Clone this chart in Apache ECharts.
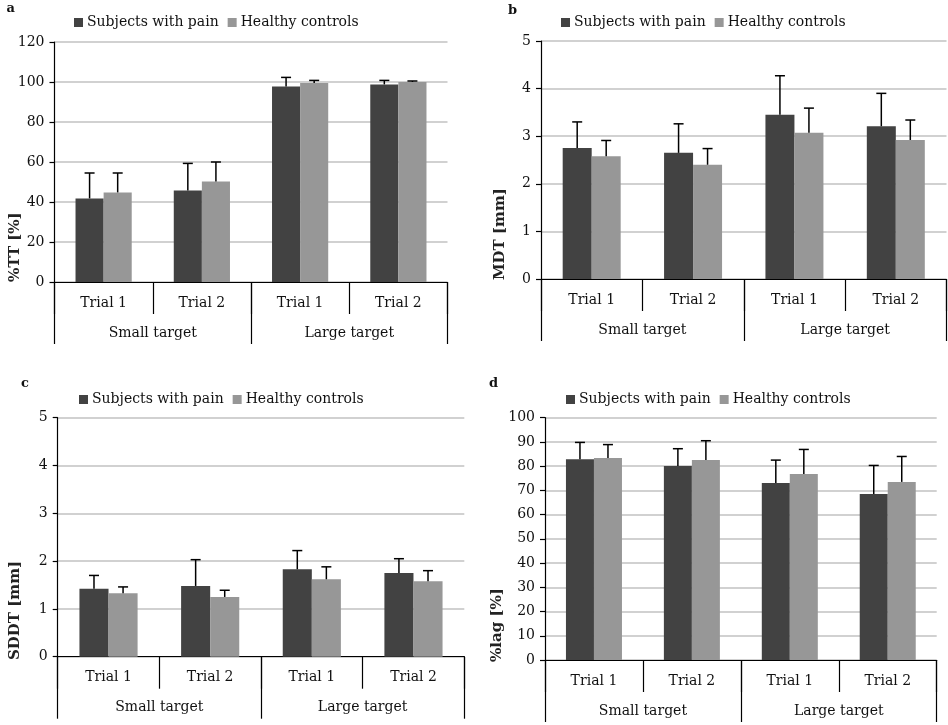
<!DOCTYPE html>
<html>
<head>
<meta charset="utf-8">
<script src="https://cdn.jsdelivr.net/npm/echarts@6/dist/echarts.min.js"></script>
<style>
  html, body { margin: 0; padding: 0; background: #fff; }
  #chart { width: 948px; height: 725px; }
</style>
</head>
<body>
<div id="chart"></div>
<script>
// Categories (two-level x axis)
const trials = ['Trial 1', 'Trial 2', 'Trial 1', 'Trial 2'];
const targets = ['Small target', 'Large target'];
const seriesNames = ['Subjects with pain', 'Healthy controls'];

// Panel a: %TT [%]
const ttPain = [41.8, 45.8, 97.8, 98.8];
const ttPainSD = [12.7, 13.5, 4.5, 2.0];
const ttCtrl = [44.8, 50.3, 99.5, 100.0];
const ttCtrlSD = [9.7, 9.7, 1.3, 0.5];

// Panel b: MDT [mm]
const mdtPain = [2.75, 2.65, 3.45, 3.21];
const mdtPainSD = [0.55, 0.61, 0.82, 0.69];
const mdtCtrl = [2.58, 2.40, 3.07, 2.92];
const mdtCtrlSD = [0.33, 0.34, 0.52, 0.42];

// Panel c: SDDT [mm]
const sddtPain = [1.42, 1.48, 1.83, 1.75];
const sddtPainSD = [0.28, 0.55, 0.39, 0.30];
const sddtCtrl = [1.33, 1.25, 1.62, 1.58];
const sddtCtrlSD = [0.13, 0.14, 0.26, 0.22];

// Panel d: %lag [%]
const lagPain = [82.9, 80.1, 73.0, 68.5];
const lagPainSD = [6.9, 7.1, 9.5, 11.8];
const lagCtrl = [83.4, 82.5, 76.8, 73.5];
const lagCtrlSD = [5.5, 8.0, 10.1, 10.5];

// Value axis ranges
const yMax = [120, 5, 5, 100];
const yStep = [20, 1, 1, 10];
const yTitles = ['%TT [%]', 'MDT [mm]', 'SDDT [mm]', '%lag [%]'];
const panelLetters = ['a', 'b', 'c', 'd'];

const panels = [
  { pain: ttPain, painSD: ttPainSD, ctrl: ttCtrl, ctrlSD: ttCtrlSD },
  { pain: mdtPain, painSD: mdtPainSD, ctrl: mdtCtrl, ctrlSD: mdtCtrlSD },
  { pain: sddtPain, painSD: sddtPainSD, ctrl: sddtCtrl, ctrlSD: sddtCtrlSD },
  { pain: lagPain, painSD: lagPainSD, ctrl: lagCtrl, ctrlSD: lagCtrlSD }
];

// Layout of the four panels (pixels)
const layout = [
  { left: 54.5, top: 42, width: 393, height: 240, legend: [74, 14], letter: [10.5, 10], title: [15, 282] },
  { left: 541, top: 41, width: 405.5, height: 238, legend: [561, 14], letter: [512, 12], title: [500, 280] },
  { left: 57.7, top: 417.7, width: 406.6, height: 239, legend: [79, 391], letter: [25, 385], title: [15, 660] },
  { left: 545, top: 417.7, width: 391.7, height: 242.3, legend: [566, 391], letter: [493, 385], title: [497, 662] }
];

const FONT = 'DejaVu Serif';
const DARK = '#424242';
const LIGHT = '#979797';
const BAR_FRAC = 0.286;

// Upper whisker (mean to mean + SD) with a short cap, offset onto its bar
function errorBar(sign) {
  return function (params, api) {
    const i = api.value(0);
    const mean = api.value(1);
    const sd = api.value(2);
    const base = api.coord([i, mean]);
    const top = api.coord([i, mean + sd]);
    const band = api.size([1, 0])[0];
    const x = base[0] + sign * band * BAR_FRAC / 2;
    const cap = 5;
    const st = { stroke: '#000', lineWidth: 1.5 };
    return {
      type: 'group',
      children: [
        { type: 'line', shape: { x1: x, y1: base[1], x2: x, y2: top[1] }, style: st },
        { type: 'line', shape: { x1: x - cap, y1: top[1], x2: x + cap, y2: top[1] }, style: st }
      ]
    };
  };
}

const grid = [], xAxis = [], yAxis = [], series = [], legend = [], graphic = [];

layout.forEach(function (L, k) {
  grid.push({ left: L.left, top: L.top, width: L.width, height: L.height, containLabel: false });

  // Trial labels
  xAxis.push({
    type: 'category', gridIndex: k, data: trials, position: 'bottom',
    axisLine: { show: true, lineStyle: { color: '#000', width: 1.2 } },
    axisTick: { show: true, length: 32, interval: 0, lineStyle: { color: '#000', width: 1.2 } },
    axisLabel: { interval: 0, margin: 14, fontFamily: FONT, fontSize: 14, color: '#111' },
    splitLine: { show: false }
  });
  // Target group labels
  xAxis.push({
    type: 'category', gridIndex: k, data: targets, position: 'bottom',
    axisLine: { show: false },
    axisTick: { show: true, length: 62, interval: 0, lineStyle: { color: '#000', width: 1.2 } },
    axisLabel: { interval: 0, margin: 44, fontFamily: FONT, fontSize: 14, color: '#111' },
    splitLine: { show: false }
  });

  yAxis.push({
    type: 'value', gridIndex: k, min: 0, max: yMax[k], interval: yStep[k],
    axisLine: { show: true, lineStyle: { color: '#000', width: 1.2 } },
    axisTick: { show: true, length: 5, lineStyle: { color: '#000', width: 1.2 } },
    axisLabel: { margin: 10, fontFamily: FONT, fontSize: 14, color: '#111' },
    splitLine: { show: true, lineStyle: { color: '#c2c2c2', width: 1.5 } }
  });

  const P = panels[k];
  const xi = k * 2;
  series.push({
    name: seriesNames[0], type: 'bar', xAxisIndex: xi, yAxisIndex: k,
    data: P.pain, barWidth: (BAR_FRAC * 100) + '%', barGap: '0%',
    itemStyle: { color: DARK }, silent: true
  });
  series.push({
    name: seriesNames[1], type: 'bar', xAxisIndex: xi, yAxisIndex: k,
    data: P.ctrl, barWidth: (BAR_FRAC * 100) + '%', barGap: '0%',
    itemStyle: { color: LIGHT }, silent: true
  });
  series.push({
    type: 'custom', xAxisIndex: xi, yAxisIndex: k, z: 5, silent: true,
    renderItem: errorBar(-1),
    encode: { x: 0, y: 1 },
    data: P.pain.map(function (v, i) { return [i, v, P.painSD[i]]; })
  });
  series.push({
    type: 'custom', xAxisIndex: xi, yAxisIndex: k, z: 5, silent: true,
    renderItem: errorBar(1),
    encode: { x: 0, y: 1 },
    data: P.ctrl.map(function (v, i) { return [i, v, P.ctrlSD[i]]; })
  });

  legend.push({
    left: L.legend[0], top: L.legend[1], orient: 'horizontal',
    icon: 'rect', itemWidth: 9, itemHeight: 9, itemGap: 9,
    selectedMode: false, padding: 0,
    textStyle: { fontFamily: FONT, fontSize: 14, color: '#111', lineHeight: 17, padding: [0, 0, 0, -1] },
    data: seriesNames
  });

  graphic.push({
    type: 'text', left: L.letter[0] - 4, top: L.letter[1] - 8,
    style: { text: panelLetters[k], fontFamily: FONT, fontWeight: 'bold', fontSize: 13, fill: '#111' }
  });
  graphic.push({
    type: 'text', x: L.title[0], y: L.title[1], rotation: Math.PI / 2,
    style: {
      text: yTitles[k], fontFamily: FONT, fontWeight: 'bold', fontSize: 15, fill: '#222',
      textAlign: 'left', textVerticalAlign: 'middle'
    }
  });
});

const chart = echarts.init(document.getElementById('chart'), null, { renderer: 'canvas' });
chart.setOption({
  animation: false,
  backgroundColor: '#fff',
  grid: grid,
  xAxis: xAxis,
  yAxis: yAxis,
  legend: legend,
  graphic: graphic,
  series: series
});
</script>
</body>
</html>
